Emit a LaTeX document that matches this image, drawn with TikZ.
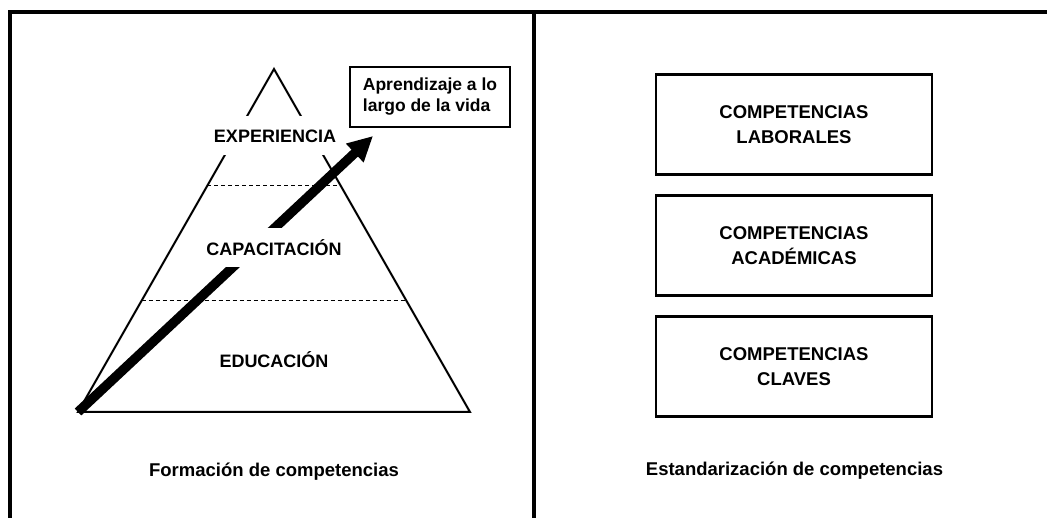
\documentclass[tikz,border=0pt]{standalone}
\usepackage{fontspec}
\setmainfont{Liberation Sans}
\usetikzlibrary{arrows.meta,calc}
\begin{document}
\begin{tikzpicture}[x=1pt,y=-1pt,
  frame/.style={line width=4pt},
  tri/.style={line width=2pt, line join=miter},
  dashline/.style={line width=1pt, dash pattern=on 4pt off 3pt},
  level/.style={fill=white, inner xsep=4pt, minimum height=39pt, font=\fontsize{18}{22}\selectfont\bfseries},
  compbox/.style={draw, line width=2.6pt, minimum width=276pt, minimum height=100pt, align=center, font=\fontsize{18.5}{25}\selectfont\bfseries},
  notebox/.style={draw, line width=1.4pt, minimum width=160pt, minimum height=60pt, align=left, font=\fontsize{17.5}{21}\selectfont\bfseries},
  caption/.style={font=\fontsize{18.5}{22}\selectfont\bfseries}]
\useasboundingbox (0,0) rectangle (1047,518);
% frame
\draw[frame] (9.5,518) -- (9.5,12.3) -- (1047,12.3);
\draw[frame] (534,12.3) -- (534,518);
% pyramid
\coordinate (apex) at (274,69);
\coordinate (bl) at (78,412);
\coordinate (br) at (470,412);
\draw[tri] (apex) -- (bl) -- (br) -- cycle;
\draw[dashline] ($(apex)!0.341!(bl)$) -- ($(apex)!0.341!(br)$);
\draw[dashline] ($(apex)!0.676!(bl)$) -- ($(apex)!0.676!(br)$);
% arrow
\coordinate (tip) at (373,136);
\draw[line width=9.5pt, -{Triangle[length=25pt,width=24pt]}] (bl) -- (tip);
% level labels
\node[level] (exp) at (275,136) {EXPERIENCIA};
\node[level] (cap) at (274,248) {CAPACITACIÓN};
\node[level, fill=none] (edu) at (274,360) {EDUCACIÓN};
% note box
\node[notebox] (note) at (430,97) {Aprendizaje a lo\\largo de la vida};
\node[caption] (f1) at (274,472) {Formación de competencias};
% right side
\node[compbox] (lab) at (794,124.5) {COMPETENCIAS\\LABORALES};
\node[compbox] (aca) at (794,245.5) {COMPETENCIAS\\ACADÉMICAS};
\node[compbox] (cla) at (794,366.5) {COMPETENCIAS\\CLAVES};
\node[caption] (f2) at (794.5,471) {Estandarización de competencias};
\end{tikzpicture}
\end{document}
